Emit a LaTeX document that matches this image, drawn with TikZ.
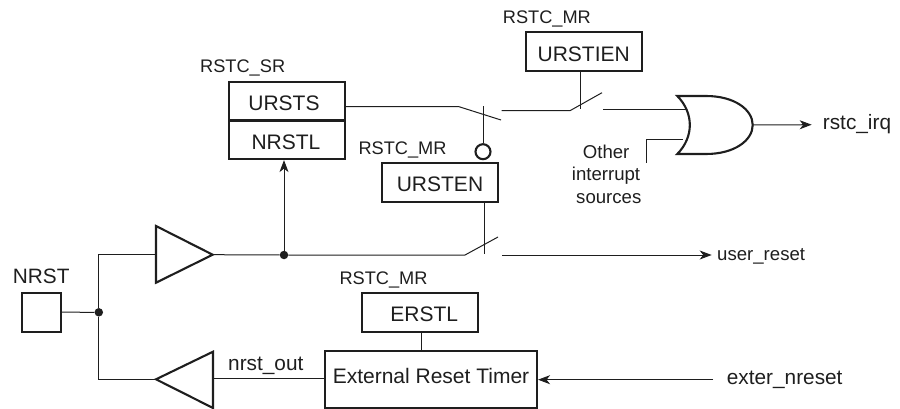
\documentclass[tikz,border=0pt]{standalone}
\usepackage{fontspec}
\setmainfont{Liberation Sans}
\usetikzlibrary{arrows.meta,calc}
\definecolor{ink}{HTML}{1E1E1E}
\tikzset{
  wire/.style={draw=ink,line width=1pt},
  arrowwire/.style={wire,-{Stealth[length=12pt,width=9pt,inset=3.5pt]}},
  gate/.style={draw=ink,line width=2.1pt,line join=miter},
  regbox/.style={draw=ink,line width=2.1pt,rectangle,minimum width=116pt,minimum height=38.7pt,inner sep=0pt,font=\fontsize{21}{24}\selectfont,text=ink,text height=19pt,text depth=0pt},
  lbl/.style={inner sep=0pt,anchor=base west,font=\fontsize{18.2}{22}\selectfont,text=ink},
  midlbl/.style={lbl,font=\fontsize{18.6}{22}\selectfont},
  biglbl/.style={lbl,font=\fontsize{20.8}{24}\selectfont},
  dot/.style={circle,fill=ink,draw=none,minimum size=8.5pt,inner sep=0pt},
  bubble/.style={circle,draw=ink,line width=2.1pt,fill=white,minimum size=15pt,inner sep=0pt}
}
\begin{document}
\begin{tikzpicture}[x=1pt,y=-1pt]
\useasboundingbox (0,0) rectangle (900,409);
% register boxes
\node[regbox,text height=20.4pt] (urstien) at (583.7,51.5) {URSTIEN};
\node[regbox] (ursts) at (287,101.4) {URSTS\hspace*{6pt}};
\node[regbox] (nrstl) at (287,139.7) {NRSTL\hspace*{2pt}};
\node[regbox] (ursten) at (440,182.5) {URSTEN};
\node[regbox] (erstl) at (420.3,312.2) {\hspace*{8pt}ERSTL};
\node[regbox,minimum width=212pt,minimum height=57pt,text height=14.4pt,text depth=5.8pt] (timer) at (431,379.1) {External Reset Timer};
\node[regbox,minimum width=39pt,minimum height=39pt] (nrstpad) at (41.2,312.2) {};
% labels
\node[lbl] (l1) at (200,72.7) {RSTC\_SR};
\node[lbl] (l2) at (358.3,154.3) {RSTC\_MR};
\node[lbl] (l3) at (502.7,24) {RSTC\_MR};
\node[lbl] (l4) at (339.3,284) {RSTC\_MR};
\node[biglbl] (l5) at (12.7,283.3) {NRST};
\node[biglbl] (l6) at (228,370) {nrst\_out};
\node[midlbl] (l7) at (582.7,158.7) {Other};
\node[midlbl] (l8) at (571.7,181) {interrupt};
\node[midlbl] (l9) at (576,203.3) {sources};
\node[biglbl] (rirq) at (822.7,130) {rstc\_irq};
\node[midlbl] (ureset) at (717,260.7) {user\_reset};
\node[biglbl] (ext) at (726.7,384) {exter\_nreset};
% coordinates
\coordinate (b1a) at (156,226);
\coordinate (b1b) at (156,282.7);
\coordinate (b1t) at (212.7,254.7);
\coordinate (b1i) at (156,254);
\coordinate (b2a) at (213,351.7);
\coordinate (b2b) at (213,408);
\coordinate (b2t) at (156,379.3);
\coordinate (b2i) at (213,378.5);
\node[dot] (j1) at (98.8,312.3) {};
\node[dot] (j2) at (284,255) {};
\node[bubble] (bub) at (483,151.7) {};
% buffers
\draw[gate] (b1a) -- (b1t) -- (b1b) -- cycle;
\draw[gate] (b2a) -- (b2t) -- (b2b) -- cycle;
% OR gate
\coordinate (ortop) at (677.3,96);
\coordinate (orbot) at (677.3,154);
\coordinate (ortip) at (752.7,125);
\draw[gate] (ortop) .. controls (694,113) and (694,137) .. (orbot)
  -- (706,154) .. controls (735,154) and (752.7,140) .. (ortip)
  .. controls (752.7,110) and (735,96) .. (706,96) -- cycle;
% wires
\draw[wire] (nrstpad.east) -- (j1);
\draw[wire] (b1i) -- (98.8,254) -- (j1) -- (98.8,379.3) -- (b2t);
\draw[wire] (timer.west |- b2i) -- (b2i);
\draw[wire] (b1t) -- (j2);
\draw[arrowwire] (j2) -- (nrstl.south -| j2);
\coordinate (s1a) at (459,106.7);
\coordinate (s1b) at (501,120);
\coordinate (s2a) at (501.7,110.7);
\coordinate (s2b) at (570,110.7);
\coordinate (s2c) at (602,92.7);
\coordinate (s3a) at (465,255);
\coordinate (s3b) at (498,237);
\coordinate (orin) at (686,109.3);
\draw[wire] (ursts.east |- s1a) -- (s1a) -- (s1b);
\draw[wire] (s2a) -- (s2b) -- (s2c);
\draw[wire] (bub.north) -- (483,106);
\draw[wire] (urstien.south -| 580,0) -- (580,109);
\draw[wire] (603,109.3) -- (orin);
\coordinate (oth) at (683,139.7);
\draw[wire] (646.7,162.7) -- (646.7,139.7) -- (oth);
\coordinate (irqend) at (811.7,124.7);
\draw[arrowwire] (ortip) -- (irqend);
\draw[wire] (j2) -- (s3a) -- (s3b);
\draw[wire] (ursten.south -| 484,0) -- (484,254);
\coordinate (uin) at (502,255);
\coordinate (uend) at (711.7,255);
\draw[arrowwire] (uin) -- (uend);
\coordinate (tt) at (421,350.6);
\draw[wire] (erstl.south -| tt) -- (tt);
\coordinate (extin) at (713,379.7);
\draw[arrowwire] (extin) -- (timer.east |- extin);
\end{tikzpicture}
\end{document}
